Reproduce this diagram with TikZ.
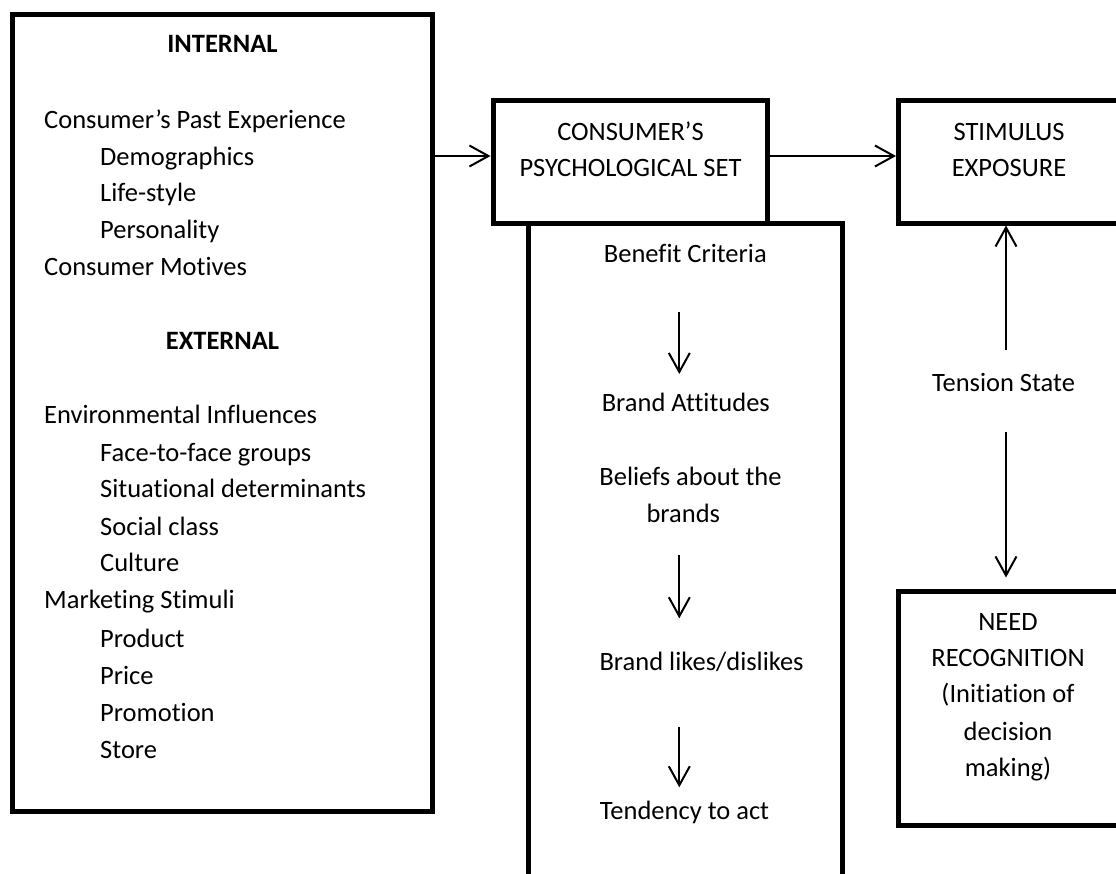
\documentclass[tikz,border=0pt]{standalone}
\usepackage{fontspec}
\setmainfont{Carlito}[RawFeature={-liga}]
\usetikzlibrary{arrows.meta}
\begin{document}
\begin{tikzpicture}[x=1pt,y=-1pt,
  box/.style={draw=black, line width=5pt, inner sep=0pt},
  arr/.style={line width=2pt, -{Straight Barb[length=19pt,width=21pt]}},
  lt/.style={inner sep=0pt, anchor=base west},
  ct/.style={inner sep=0pt, anchor=base},
  every node/.append style={font=\fontsize{26.5}{32}\selectfont}]
\useasboundingbox (0,0) rectangle (1116,873);
\clip (0,0) rectangle (1116,873);
\fill[white] (0,0) rectangle (1116,873);

% boxes
\node[box, minimum width=313.5pt, minimum height=677pt] (T) at (685.25,561.5) {};
\node[box, minimum width=420pt, minimum height=796.3pt] (L) at (222.5,412.85) {};
\node[box, minimum width=274.5pt, minimum height=122.5pt] (C) at (630.25,161.75) {};
\node[box, minimum width=220.5pt, minimum height=122.5pt] (S) at (1008.75,161.75) {};
\node[box, minimum width=220.5pt, minimum height=234pt] (N) at (1008.75,708) {};

% internal / external factors
\node[ct, font=\fontsize{26.5}{32}\selectfont\bfseries] (int) at (222.5,52.3) {INTERNAL};
\node[lt] (i1) at (44,128.3) {Consumer’s Past Experience};
\node[lt] (i2) at (100,165) {Demographics};
\node[lt] (i3) at (100,201.7) {Life-style};
\node[lt] (i4) at (100,238.3) {Personality};
\node[lt] (i5) at (44,275) {Consumer Motives};
\node[ct, font=\fontsize{26.5}{32}\selectfont\bfseries] (ext) at (222.5,349.3) {EXTERNAL};
\node[lt] (e1) at (44,423.3) {Environmental Influences};
\node[lt] (e2) at (100,461) {Face-to-face groups};
\node[lt] (e3) at (100,497.7) {Situational determinants};
\node[lt] (e4) at (100,535) {Social class};
\node[lt] (e5) at (100,571.7) {Culture};
\node[lt] (e6) at (44,608) {Marketing Stimuli};
\node[lt] (e7) at (100,647.7) {Product};
\node[lt] (e8) at (100,684.3) {Price};
\node[lt] (e9) at (100,721) {Promotion};
\node[lt] (e10) at (100,758.3) {Store};

% box titles
\node[ct] (c1) at (630.5,140.7) {CONSUMER’S};
\node[ct] (c2) at (630.5,176.7) {PSYCHOLOGICAL SET};
\node[ct] (s1) at (1009,140) {STIMULUS};
\node[ct] (s2) at (1009,176.7) {EXPOSURE};
\node[ct] (n1) at (1008,630) {NEED};
\node[ct] (n2) at (1008,666.7) {RECOGNITION};
\node[ct] (n3) at (1008,702.7) {(Initiation of};
\node[ct] (n4) at (1008,740) {decision};
\node[ct] (n5) at (1008,776.7) {making)};

% psychological set contents
\node[ct] (p1) at (685.3,262.7) {Benefit Criteria};
\node[ct] (p2) at (685.8,411) {Brand Attitudes};
\node[ct] (p3) at (690.5,485.5) {Beliefs about the};
\node[ct] (p4) at (683.3,522.3) {brands};
\node[ct] (p5) at (701.6,670) {Brand likes/dislikes};
\node[ct] (p6) at (684.5,819) {Tendency to act};

\node[ct] (ts) at (1003.5,391.7) {Tension State};

% connectors
\coordinate (ay) at (0,156);
\draw[arr] (ay -| L.east) -- (ay -| C.west);
\draw[arr] (ay -| C.east) -- (ay -| S.west);

\coordinate (ux) at (1006,0);
\coordinate (up0) at (1006,350);
\coordinate (dn0) at (1006,432);
\draw[arr] (up0) -- (ux |- S.south);
\draw[arr] (dn0) -- ([yshift=11pt]ux |- N.north);

\coordinate (a1s) at (679.3,311.7);
\coordinate (a1e) at (679.3,374);
\coordinate (a2s) at (679.3,555);
\coordinate (a2e) at (679.3,618.3);
\coordinate (a3s) at (679.3,726.7);
\coordinate (a3e) at (679.3,787.3);
\draw[arr] (a1s) -- (a1e);
\draw[arr] (a2s) -- (a2e);
\draw[arr] (a3s) -- (a3e);
\end{tikzpicture}
\end{document}
